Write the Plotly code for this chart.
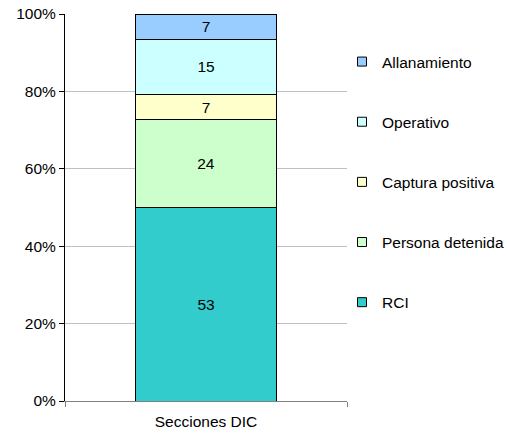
import plotly.graph_objects as go

categories = ["Secciones DIC"]
series_names = ["RCI", "Persona detenida", "Captura positiva", "Operativo", "Allanamiento"]
series_values = [[53], [24], [7], [15], [7]]
series_colors = ["#33CCCC", "#CCFFCC", "#FFFFCC", "#CCFFFF", "#99CCFF"]
y_tick_vals = [0, 20, 40, 60, 80, 100]
y_tick_text = ["0%", "20%", "40%", "60%", "80%", "100%"]

FONT = "Liberation Sans, Arial, sans-serif"
FS = 15.5

fig = go.Figure()
for name, vals, col in zip(series_names, series_values, series_colors):
    fig.add_trace(go.Bar(
        x=categories, y=vals, name=name, showlegend=False,
        marker=dict(color=col, line=dict(color="#000000", width=1)),
        width=0.5,
        text=[str(v) for v in vals], textposition="inside",
        insidetextanchor="middle", textangle=0, constraintext="none",
        textfont=dict(color="#000000", size=FS, family=FONT),
        hoverinfo="skip",
    ))

# legend proxies, top to bottom
for name, col in reversed(list(zip(series_names, series_colors))):
    fig.add_trace(go.Scatter(
        x=[None], y=[None], mode="markers", name=name, legendgroup=name,
        marker=dict(symbol="square", size=9, color=col, line=dict(color="#000000", width=1)),
    ))

fig.update_layout(
    width=507, height=436,
    margin=dict(l=65, r=160, t=14, b=35, autoexpand=False),
    barmode="stack", barnorm="percent",
    paper_bgcolor="white", plot_bgcolor="white",
    font=dict(family=FONT, size=FS, color="#000000"),
    legend=dict(
        xref="container", yref="container",
        x=342 / 507, y=1 - 45 / 436, xanchor="left", yanchor="top",
        traceorder="grouped", tracegroupgap=37, maxheight=1.0,
        font=dict(family=FONT, size=FS, color="#000000"),
        bgcolor="rgba(0,0,0,0)", itemclick=False,
    ),
    showlegend=True,
    xaxis=dict(
        type="category", range=[-0.5, 0.5], tickson="boundaries",
        ticks="outside", ticklen=5, tickcolor="#808080",
        showline=True, linecolor="#808080", linewidth=1,
        showgrid=False, zeroline=False, automargin=False,
        ticklabelstandoff=6,
        tickfont=dict(family=FONT, size=FS, color="#000000"),
    ),
    yaxis=dict(
        range=[0, 100], tickvals=y_tick_vals, ticktext=y_tick_text,
        ticks="outside", ticklen=5, tickcolor="#000000",
        showline=True, linecolor="#000000", linewidth=1,
        showgrid=True, gridcolor="#C0C0C0", gridwidth=1,
        zeroline=False, automargin=False,
        tickfont=dict(family=FONT, size=FS, color="#000000"),
    ),
)

fig.write_html("out.html", config={"displayModeBar": False},
               post_script="document.body.style.margin='0';")
